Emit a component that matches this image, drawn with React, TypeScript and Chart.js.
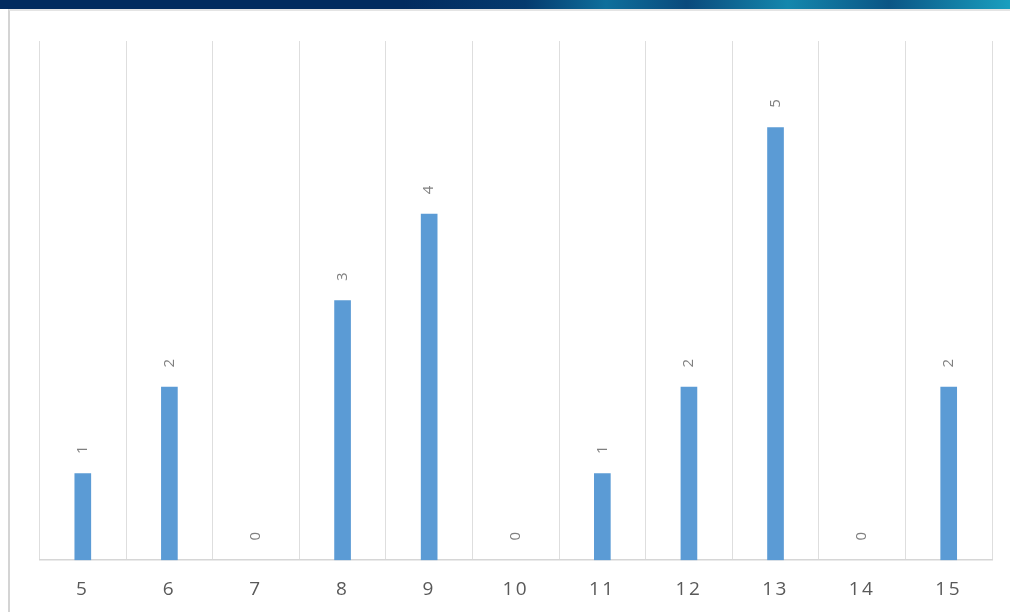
import React, { useEffect, useRef } from "react";
import { Chart, registerables } from "chart.js";

Chart.register(...registerables);

const categories: string[] = ["5", "6", "7", "8", "9", "10", "11", "12", "13", "14", "15"];
const counts: number[] = [1, 2, 0, 3, 4, 0, 1, 2, 5, 0, 2];
const yMax = 6;

const BAR_COLOR = "#5b9bd5";
const GRID_COLOR = "#dedede";
const AXIS_COLOR = "#d6d6d6";
const TICK_COLOR = "#595959";
const LABEL_COLOR = "#808080";
const FONT = "'Open Sans', 'Liberation Sans', sans-serif";

// Rotated value labels above each bar (text reads bottom-to-top).
const valueLabels = {
  id: "valueLabels",
  beforeDraw(chart: any) {
    chart.ctx.letterSpacing = "2.5px";
  },
  afterDatasetsDraw(chart: any) {
    const ctx = chart.ctx;
    const meta = chart.getDatasetMeta(0);
    const yScale = chart.scales.y;
    ctx.save();
    ctx.letterSpacing = "0px";
    ctx.font = `15px ${FONT}`;
    ctx.fillStyle = LABEL_COLOR;
    ctx.textAlign = "center";
    ctx.textBaseline = "middle";
    meta.data.forEach((bar: any, i: number) => {
      const v = counts[i];
      const top = yScale.getPixelForValue(v);
      ctx.save();
      ctx.translate(bar.x, top - 24);
      ctx.rotate(-Math.PI / 2);
      ctx.fillText(String(v), 0, 0);
      ctx.restore();
    });
    ctx.restore();
  },
};

export default function App() {
  const canvasRef = useRef<HTMLCanvasElement | null>(null);

  useEffect(() => {
    document.body.style.margin = "0";
    const canvas = canvasRef.current;
    if (!canvas) return;
    const chart = new Chart(canvas, {
      type: "bar",
      data: {
        labels: categories,
        datasets: [
          {
            data: counts,
            backgroundColor: (c: any) => (c.raw === 0 ? "rgba(0,0,0,0)" : BAR_COLOR),
            borderWidth: 0,
            barThickness: 16,
          },
        ],
      },
      options: {
        animation: false,
        responsive: false,
        maintainAspectRatio: false,
        layout: { padding: { left: 29.5, right: 18, top: 30, bottom: -7 } },
        plugins: {
          legend: { display: false },
          tooltip: { enabled: false },
        },
        scales: {
          x: {
            grid: {
              display: true,
              color: GRID_COLOR,
              lineWidth: 1,
              drawTicks: false,
              offset: true,
            },
            border: { display: true, color: AXIS_COLOR, width: 1.5 },
            ticks: {
              color: TICK_COLOR,
              font: { family: FONT, size: 19 },
              padding: 18,
              autoSkip: false,
              maxRotation: 0,
            },
          },
          y: {
            display: false,
            min: 0,
            max: yMax,
          },
        },
      },
      plugins: [valueLabels],
    });
    return () => chart.destroy();
  }, []);

  return (
    <div style={{ position: "fixed", left: 0, top: 0, width: 1010, height: 612, background: "#ffffff", overflow: "hidden" }}>
      <div
        style={{
          position: "absolute",
          left: 0,
          top: 0,
          width: 1010,
          height: 9,
          background:
            "linear-gradient(90deg, #022b5f 0%, #022b5f 40%, #053a6e 52%, #0e6f9c 60%, #0a4a7c 68%, #1487ad 78%, #0b5585 88%, #1a9fbf 100%)",
        }}
      />
      <div
        style={{
          position: "absolute",
          left: 8,
          top: 9,
          width: 1010,
          height: 610,
          borderLeft: "2px solid #d4d4d4",
          borderTop: "2px solid #e4e4e4",
          background: "#ffffff",
        }}
      />
      <canvas
        ref={canvasRef}
        width={1000}
        height={601}
        style={{ position: "absolute", left: 10, top: 11, width: 1000, height: 601 }}
      />
    </div>
  );
}
